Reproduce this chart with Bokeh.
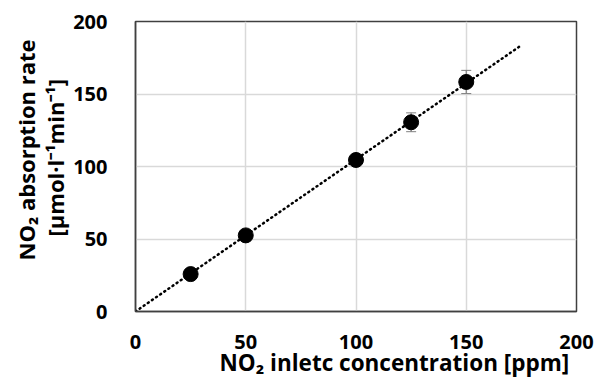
from bokeh.plotting import figure
from bokeh.models import ColumnDataSource, Whisker, FixedTicker, Range1d, Title
from bokeh.embed import file_html
from bokeh.resources import INLINE

conc = [25, 50, 100, 125, 150]
rate = [25.8, 52.5, 104.5, 130.5, 158.3]
err = [1.5, 1.5, 3.5, 6.5, 8.0]
trend_x = [0, 175]
x_ticks = [0, 50, 100, 150, 200]
y_ticks = [0, 50, 100, 150, 200]
x_title = "NO\u2082 inletc concentration [ppm]"
y_title_1 = "NO\u2082 absorption rate"
y_title_2 = "[\u03bcmol\u00b7l\u207b\u00b9min\u207b\u00b9]"

slope = sum(a * b for a, b in zip(conc, rate)) / sum(a * a for a in conc)
trend_y = [slope * t for t in trend_x]

FONT = "Open Sans"

p = figure(width=596, height=380, output_backend="svg", toolbar_location=None,
           x_range=Range1d(0, 200), y_range=Range1d(0, 200),
           min_border_left=135, min_border_right=20, min_border_top=21, min_border_bottom=69)
p.outline_line_color = "#404040"
p.outline_line_width = 1.5

for ax, ticks in ((p.xaxis, x_ticks), (p.yaxis, y_ticks)):
    ax.ticker = FixedTicker(ticks=ticks)
    ax.major_tick_line_color = None
    ax.minor_tick_line_color = None
    ax.axis_line_color = "#404040"
    ax.axis_line_width = 1.5
    ax.major_label_text_font = FONT
    ax.major_label_text_font_style = "bold"
    ax.major_label_text_font_size = "20px"
    ax.major_label_text_color = "black"

p.xaxis.major_label_standoff = 17
p.yaxis.major_label_standoff = 22

p.xgrid.grid_line_color = "#d9d9d9"
p.ygrid.grid_line_color = "#d9d9d9"
p.xgrid.grid_line_width = 1.5
p.ygrid.grid_line_width = 1.5

p.line(trend_x, trend_y, line_color="black", line_width=2.5, line_dash="1 4", line_cap="round")

src = ColumnDataSource(dict(x=conc, y=rate,
                            lo=[r - e for r, e in zip(rate, err)],
                            hi=[r + e for r, e in zip(rate, err)]))
w = Whisker(source=src, base="x", lower="lo", upper="hi", line_color="#7f7f7f", line_width=1.2)
w.upper_head.line_color = "#7f7f7f"
w.lower_head.line_color = "#7f7f7f"
w.upper_head.size = 10
w.lower_head.size = 10
p.add_layout(w)
p.scatter("x", "y", source=src, size=15, fill_color="black", line_color="black")

tstyle = dict(text_font=FONT, text_font_style="bold", text_color="black", align="left")
p.add_layout(Title(text=x_title, offset=84, standoff=-10, vertical_align="top",
                   text_font_size="22.5px", **tstyle), "below")
p.add_layout(Title(text=y_title_2, offset=75, standoff=2, vertical_align="bottom",
                   text_font_size="22px", **tstyle), "left")
p.add_layout(Title(text=y_title_1, offset=51, standoff=-8, vertical_align="bottom",
                   text_font_size="22px", **tstyle), "left")

open("out.html", "w").write(file_html(p, INLINE))
